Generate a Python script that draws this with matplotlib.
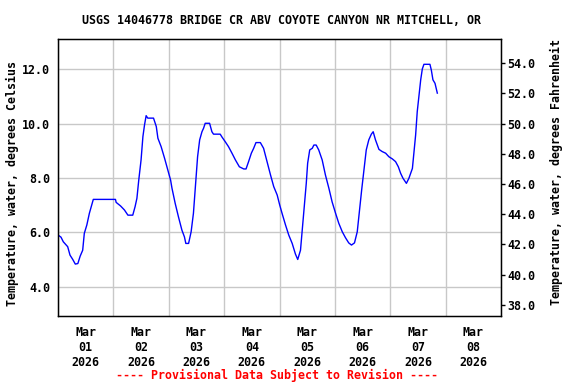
import numpy as np
import pandas as pd
import matplotlib
matplotlib.use("Agg")
import matplotlib.pyplot as plt
import matplotlib.dates as mdates

# hours after 2026-03-01 00:00 and water temperature (deg C)
hours = [0.0, 1.3, 2.3, 4.2, 5.2, 6.4, 7.5, 8.6, 9.6, 10.7, 11.4, 12.5, 13.6, 14.6, 15.3,
         24.9, 25.2, 27.1, 28.8, 30.3, 32.4, 33.4, 34.2, 35.0, 36.0, 36.8, 37.5, 38.2, 38.9,
         41.4, 42.6, 43.3, 44.7, 46.2, 47.6, 48.8, 49.4, 50.8, 52.2, 53.7, 54.8, 55.4, 56.6,
         57.7, 58.7, 59.8, 60.5, 61.4, 62.4, 63.1, 63.8, 65.7, 66.7, 67.4, 70.3, 71.1, 72.5,
         73.9, 75.4, 76.9, 78.6, 80.5, 81.5, 82.6, 83.8, 84.8, 85.8, 87.7, 89.1, 90.6, 92.1,
         93.5, 95.0, 96.1, 97.1, 98.6, 100.0, 101.5, 102.9, 103.9, 105.1, 105.8, 106.5, 107.6,
         108.2, 109.1, 110.2, 110.9, 111.9, 113.0, 114.5, 115.9, 117.4, 118.8, 120.3, 121.7,
         123.2, 124.6, 126.0, 127.2, 128.5, 129.7, 130.7, 131.6, 132.6, 133.6, 134.7, 135.8,
         136.6, 137.6, 139.1, 140.5, 142.0, 143.4, 144.9, 146.3, 147.5, 148.5, 149.5, 151.0,
         152.1, 153.6, 154.3, 155.0, 155.7, 156.4, 157.2, 157.9, 158.6, 161.2, 161.8, 162.5,
         163.4, 164.4]
temp_c = [5.90, 5.82, 5.65, 5.47, 5.16, 5.00, 4.83, 4.85, 5.12, 5.34, 5.96, 6.27, 6.70, 7.00, 7.21,
          7.21, 7.10, 6.97, 6.82, 6.63, 6.63, 6.94, 7.25, 7.92, 8.66, 9.52, 9.95, 10.29, 10.20,
          10.20, 9.89, 9.46, 9.15, 8.72, 8.29, 7.92, 7.62, 7.06, 6.57, 6.08, 5.83, 5.59, 5.59,
          6.02, 6.70, 7.99, 8.78, 9.40, 9.70, 9.83, 10.01, 10.01, 9.70, 9.61, 9.61, 9.50, 9.33,
          9.15, 8.91, 8.66, 8.41, 8.33, 8.33, 8.60, 8.91, 9.09, 9.30, 9.30, 9.09, 8.60, 8.11,
          7.68, 7.37, 7.00, 6.70, 6.27, 5.90, 5.59, 5.20, 5.00, 5.34, 6.02, 6.70, 7.80,
          8.54, 9.03, 9.09, 9.21, 9.21, 9.03, 8.66, 8.11, 7.62, 7.12, 6.70, 6.33,
          6.02, 5.80, 5.61, 5.53, 5.61, 6.02, 6.82, 7.55, 8.29, 9.03, 9.40, 9.61,
          9.70, 9.40, 9.05, 8.97, 8.91, 8.78, 8.70, 8.60, 8.41, 8.17, 7.99, 7.80,
          7.99, 8.35, 8.97, 9.58, 10.44, 10.99, 11.61, 12.01, 12.18, 12.18, 11.97, 11.61,
          11.48, 11.12]

c_ticks = [4.0, 6.0, 8.0, 10.0, 12.0]
f_ticks = [38.0, 40.0, 42.0, 44.0, 46.0, 48.0, 50.0, 52.0, 54.0]

times = pd.Timestamp("2026-03-01") + pd.to_timedelta(hours, unit="h")

fs = 8.4
font = {"family": "DejaVu Sans Mono", "weight": "bold", "size": fs}
plt.rcParams["font.family"] = "DejaVu Sans Mono"
plt.rcParams["font.weight"] = "bold"
plt.rcParams["font.size"] = fs

fig = plt.figure(figsize=(5.76, 3.84), dpi=100)
ax = fig.add_axes([58 / 576, 1 - 316 / 384, (501 - 58) / 576, (316 - 39.3) / 384])

ax.plot(times, temp_c, color="#0000ff", lw=1.0)

ylo, yhi = 2.92, 13.1
ax.set_ylim(ylo, yhi)
ax.set_xlim(pd.Timestamp("2026-03-01"), pd.Timestamp("2026-03-09"))

ax.set_yticks(c_ticks)
ax.set_yticklabels([f"{v:.1f}" for v in c_ticks])

# gridlines at midnight, labels at noon of each day
ax.xaxis.set_major_locator(mdates.DayLocator())
ax.xaxis.set_major_formatter(plt.NullFormatter())
noon = pd.date_range("2026-03-01 12:00", periods=8, freq="D")
ax.set_xticks(noon, minor=True)
ax.set_xticklabels([t.strftime("%b\n%d\n%Y") for t in noon], minor=True)
ax.tick_params(axis="x", which="both", length=0, pad=7)
ax.tick_params(axis="y", length=0, pad=5.5)

ax.grid(True, which="major", color="#c8c8c8", lw=1.0)
for s in ax.spines.values():
    s.set_linewidth(1.0)

ax2 = ax.twinx()
ax2.set_ylim(ylo * 1.8 + 32, yhi * 1.8 + 32)
ax2.set_yticks(f_ticks)
ax2.set_yticklabels([f"{v:.1f}" for v in f_ticks])
ax2.tick_params(axis="y", length=3, width=1, pad=1.5)

ax.set_ylabel("Temperature, water, degrees Celsius", fontdict=font)
ax.yaxis.set_label_coords(-39 / 443, 0.48)
ax2.set_ylabel("Temperature, water, degrees Fahrenheit", fontdict=font)
ax2.yaxis.set_label_coords(1 + 49 / 443, 0.52)

fig.text(0.488, 1 - 20 / 384, "USGS 14046778 BRIDGE CR ABV COYOTE CANYON NR MITCHELL, OR",
         ha="center", va="center", **font)
fig.text(0.481, 1 - 375 / 384, "---- Provisional Data Subject to Revision ----",
         ha="center", va="center", color="red", **font)

fig.savefig("out.png", dpi=100)
